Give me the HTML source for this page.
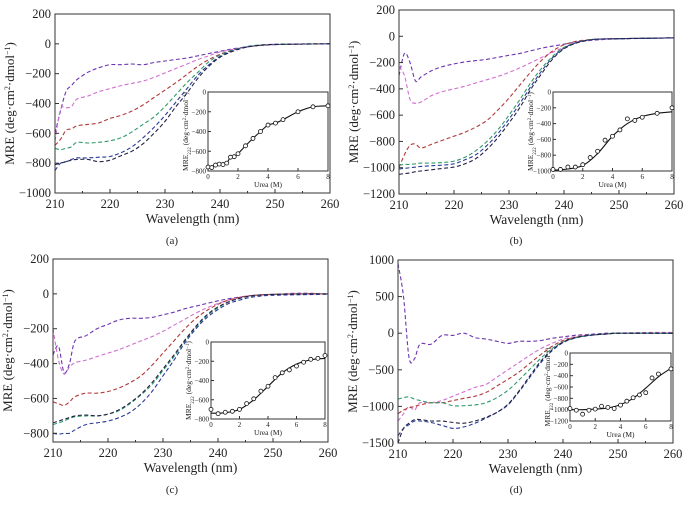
<!DOCTYPE html>
<html><head><meta charset="utf-8"><style>
html,body{margin:0;padding:0;background:#fff;}
svg, svg text{font-family:"Liberation Serif","DejaVu Serif",serif;}
</style></head><body>
<svg id="fig" width="688" height="500" viewBox="0 0 688 500" xmlns="http://www.w3.org/2000/svg" font-family="Liberation Serif, serif"></svg>
<script>
const wavelengths=[210,211,212,213,214,216,218,220,222,224,226,228,230,232,234,236,238,240,242,244,246,248,250,255,260];
const seriesNames=['purple','magenta','red','green','navy','black'];
const seriesColors=['#6a35b0','#d070d0','#b03a3a','#2e9a6a','#2a3a9a','#222244'];
// panel a
const aPurple=[-600,-450,-320,-280,-240,-190,-160,-140,-140,-135,-140,-125,-115,-105,-95,-80,-65,-50,-35,-25,-15,-10,-5,-2,0];
const aMagenta=[-650,-440,-430,-420,-370,-350,-320,-300,-280,-265,-250,-225,-195,-165,-135,-105,-80,-55,-40,-25,-15,-8,-5,-2,0];
const aRed=[-680,-640,-580,-570,-550,-540,-530,-500,-480,-450,-410,-360,-310,-260,-205,-150,-105,-70,-45,-25,-15,-8,-5,-2,0];
const aGreen=[-700,-710,-700,-690,-660,-665,-660,-650,-630,-590,-540,-490,-420,-340,-260,-190,-120,-75,-45,-25,-12,-6,-3,-1,0];
const aNavy=[-850,-800,-790,-775,-765,-765,-760,-755,-730,-690,-630,-560,-480,-390,-300,-210,-140,-85,-50,-28,-14,-7,-4,-1,0];
const aBlack=[-810,-800,-790,-780,-775,-775,-790,-780,-750,-720,-670,-600,-520,-420,-330,-230,-150,-90,-55,-30,-15,-7,-4,-1,0];
// panel b
const bPurple=[-300,-130,-200,-340,-310,-260,-230,-210,-195,-185,-175,-160,-145,-130,-110,-90,-75,-60,-45,-35,-28,-22,-20,-15,-12];
const bMagenta=[-230,-300,-480,-510,-500,-450,-420,-400,-380,-355,-330,-305,-275,-240,-200,-160,-120,-85,-55,-35,-25,-20,-18,-15,-12];
const bRed=[-1000,-900,-830,-820,-850,-820,-790,-760,-730,-690,-640,-560,-470,-370,-270,-180,-110,-65,-40,-28,-22,-20,-18,-15,-12];
const bGreen=[-980,-975,-975,-970,-965,-965,-960,-950,-920,-870,-800,-710,-600,-480,-350,-240,-150,-85,-50,-30,-22,-20,-18,-15,-12];
const bNavy=[-1010,-1005,-1000,-995,-990,-985,-980,-970,-940,-900,-830,-740,-630,-510,-380,-260,-160,-90,-52,-32,-22,-20,-18,-15,-12];
const bBlack=[-1050,-1045,-1040,-1030,-1025,-1015,-1005,-995,-970,-930,-860,-770,-660,-540,-400,-280,-170,-95,-55,-33,-22,-20,-18,-15,-12];
// panel c
const cPurple=[-350,-300,-450,-400,-270,-240,-200,-175,-150,-140,-140,-135,-120,-105,-85,-70,-55,-40,-28,-18,-10,-5,-3,0,0];
const cMagenta=[-200,-380,-460,-420,-395,-380,-360,-340,-320,-295,-270,-245,-215,-180,-145,-110,-80,-55,-35,-20,-10,-5,-3,5,0];
const cRed=[-620,-630,-640,-620,-590,-570,-570,-560,-540,-510,-470,-410,-340,-270,-200,-140,-95,-60,-35,-20,-10,-6,-3,0,0];
const cGreen=[-750,-740,-730,-715,-705,-700,-700,-690,-670,-630,-580,-520,-440,-360,-270,-190,-125,-80,-45,-25,-12,-6,-3,0,0];
const cNavy=[-800,-805,-800,-800,-780,-750,-740,-730,-710,-680,-630,-560,-470,-380,-280,-200,-135,-90,-55,-35,-20,-12,-8,-5,-2];
const cBlack=[-740,-730,-720,-710,-700,-695,-700,-690,-665,-625,-575,-510,-430,-350,-265,-185,-120,-75,-45,-25,-12,-6,-3,0,0];
// panel d
const dPurple=[950,500,-330,-350,-150,-150,-30,-30,0,-60,-80,-110,-140,-110,-110,-100,-70,-50,-30,-20,-10,0,0,0,0];
const dMagenta=[-1200,-1100,-1000,-1050,-950,-950,-920,-860,-800,-740,-700,-600,-500,-400,-300,-210,-140,-80,-50,-30,-20,-10,0,10,10];
const dRed=[-1100,-1050,-1020,-1000,-980,-950,-950,-920,-890,-860,-810,-720,-630,-530,-410,-290,-180,-100,-60,-35,-20,-10,0,0,0];
const dGreen=[-900,-880,-870,-900,-920,-950,-950,-990,-990,-980,-950,-880,-780,-640,-490,-340,-210,-120,-70,-40,-20,-10,0,0,0];
const dNavy=[-1400,-1300,-1250,-1200,-1200,-1220,-1260,-1300,-1280,-1230,-1160,-1080,-980,-800,-600,-400,-240,-130,-70,-40,-20,-10,0,0,0];
const dBlack=[-1500,-1300,-1230,-1180,-1180,-1200,-1200,-1220,-1230,-1200,-1150,-1080,-970,-790,-580,-380,-230,-120,-65,-35,-20,-10,0,0,0];
// insets
const aUrea=[0,0.25,0.5,0.75,1,1.25,1.5,1.75,2,2.5,3,3.5,4,4.5,5,6,7,8];
const aMre=[-760,-765,-740,-730,-735,-720,-660,-655,-625,-545,-470,-400,-335,-315,-280,-200,-150,-140];
const bUrea=[0,0.5,1,1.5,2,2.5,3,3.5,4,4.5,5,5.5,6,7,8];
const bMre=[-980,-980,-950,-950,-920,-830,-750,-610,-560,-480,-340,-360,-320,-270,-200];
const cUrea=[0,0.5,1,1.5,2,2.5,3,3.5,4,4.5,5,5.5,6,6.5,7,7.5,8];
const cMre=[-700,-745,-730,-720,-700,-640,-590,-510,-460,-370,-320,-290,-250,-210,-180,-170,-140];
const dUrea=[0,0.5,1,1.5,2,2.5,3,3.5,4,4.5,5,5.5,6,6.5,7,8];
const dMre=[-980,-1010,-1080,-1010,-990,-940,-960,-980,-920,-850,-790,-740,-700,-440,-370,-280];
const fitUrea=[0,1,2,3,4,5,6,7,8];
const bFit=[-990,-975,-930,-780,-560,-400,-310,-270,-250];
const cFit=[-740,-735,-700,-600,-460,-320,-230,-185,-170];
const dFit=[-1000,-1000,-990,-970,-910,-800,-620,-420,-270];
const xTicks=[210,220,230,240,250,260];
const ureaTicks=[0,2,4,6,8];

const NS='http://www.w3.org/2000/svg';
const FONT='Liberation Serif, DejaVu Serif, serif';
const svg=document.getElementById('fig');
function mk(tag,attrs,parent){const e=document.createElementNS(NS,tag);for(const k in attrs)e.setAttribute(k,attrs[k]);if(tag==='text')e.setAttribute('font-family',FONT);(parent||svg).appendChild(e);return e;}

const panels=[
 {id:'a',box:[55,330,14,193],ymax:200,ymin:-1000,yt:[200,0,-200,-400,-600,-800,-1000],data:[aPurple,aMagenta,aRed,aGreen,aNavy,aBlack],
  inset:{box:[208,328,92,171],ymin:-800,yt:[0,-200,-400,-600,-800],u:aUrea,v:aMre,fu:aUrea,fv:aMre},label:[172,244]},
 {id:'b',box:[399,674,10,194],ymax:200,ymin:-1200,yt:[200,0,-200,-400,-600,-800,-1000,-1200],data:[bPurple,bMagenta,bRed,bGreen,bNavy,bBlack],
  inset:{box:[553,672,92,171],ymin:-1000,yt:[0,-200,-400,-600,-800,-1000],u:bUrea,v:bMre,fu:fitUrea,fv:bFit},label:[516,244]},
 {id:'c',box:[53,328,259,442],ymax:200,ymin:-850,yt:[200,0,-200,-400,-600,-800],data:[cPurple,cMagenta,cRed,cGreen,cNavy,cBlack],
  inset:{box:[211,325,342,419],ymin:-800,yt:[0,-200,-400,-600,-800],u:cUrea,v:cMre,fu:fitUrea,fv:cFit},label:[172,493]},
 {id:'d',box:[398,673,260,443],ymax:1000,ymin:-1500,yt:[1000,500,0,-500,-1000,-1500],data:[dPurple,dMagenta,dRed,dGreen,dNavy,dBlack],
  inset:{box:[570,671,353,421],ymin:-1200,yt:[0,-200,-400,-600,-800,-1000,-1200],u:dUrea,v:dMre,fu:fitUrea,fv:dFit},label:[516,493]}
];

function smoothPath(pts){
  let d='M'+pts[0][0].toFixed(1)+','+pts[0][1].toFixed(1);
  for(let i=0;i<pts.length-1;i++){
    const p0=pts[i-1]||pts[i],p1=pts[i],p2=pts[i+1],p3=pts[i+2]||p2;
    const c1=[p1[0]+(p2[0]-p0[0])/6,p1[1]+(p2[1]-p0[1])/6];
    const c2=[p2[0]-(p3[0]-p1[0])/6,p2[1]-(p3[1]-p1[1])/6];
    d+=' C'+c1[0].toFixed(1)+','+c1[1].toFixed(1)+' '+c2[0].toFixed(1)+','+c2[1].toFixed(1)+' '+p2[0].toFixed(1)+','+p2[1].toFixed(1);
  }
  return d;
}

panels.forEach(p=>{
  const [x0,x1,y0,y1]=p.box;
  const g=mk('g',{});
  
  
  const sx=w=>x0+(w-210)/(260-210)*(x1-x0);
  const sy=v=>y0+(p.ymax-v)/(p.ymax-p.ymin)*(y1-y0);
  const clip=mk('clipPath',{id:'clip'+p.id},g);
  mk('rect',{x:x0,y:y0,width:x1-x0,height:y1-y0},clip);
  const lines=mk('g',{'clip-path':'url(#clip'+p.id+')'},g);
  p.data.forEach((arr,i)=>{
    const pts=wavelengths.map((w,j)=>[sx(w),sy(arr[j])]);
    const path=mk('path',{d:smoothPath(pts),fill:'none',stroke:seriesColors[i],'stroke-width':1.1,'stroke-dasharray':'4,2.5'},lines);
    
    
  });
  const frame=mk('rect',{x:x0,y:y0,width:x1-x0,height:y1-y0,fill:'none',stroke:'#333','stroke-width':1},g);
  
  
  for(let w=210;w<=260;w+=5){
    const big=w%10===0;
    mk('line',{x1:sx(w),x2:sx(w),y1:y1,y2:y1-(big?4:2),stroke:'#333'},g);
  }
  xTicks.forEach(w=>{
    const t=mk('text',{x:sx(w),y:y1+15,'text-anchor':'middle','font-size':12.5,fill:'#222'},g);
    t.textContent=w;
    
    
  });
  p.yt.forEach(v=>{
    mk('line',{x1:x0,x2:x0+4,y1:sy(v),y2:sy(v),stroke:'#333'},g);
    const t=mk('text',{x:x0-4,y:sy(v)+4,'text-anchor':'end','font-size':12.5,fill:'#222'},g);
    t.textContent=v<0?'\u2212'+(-v):v;
    
    
  });
  const xt=mk('text',{x:(x0+x1)/2,y:y1+30,'text-anchor':'middle','font-size':13.5,fill:'#222'},g);
  xt.textContent='Wavelength (nm)';
  
  
  const yc=(y0+y1)/2, yx=x0-41;
  const yt=mk('text',{x:yx,y:yc,'text-anchor':'middle','font-size':13,fill:'#222',transform:'rotate(-90 '+yx+' '+yc+')'},g);
  yt.innerHTML='MRE (deg\u00b7cm<tspan baseline-shift="super" font-size="8">2</tspan>\u00b7dmol<tspan baseline-shift="super" font-size="8">\u22121</tspan>)';
  
  
  const lb=mk('text',{x:p.label[0],y:p.label[1],'text-anchor':'middle','font-size':11,fill:'#222'},g);
  lb.textContent='('+p.id+')';
  
  

  // inset
  const I=p.inset;const [ix0,ix1,iy0,iy1]=I.box;
  const ig=mk('g',{},g);
  
  
  const ux=u=>ix0+u/8*(ix1-ix0);
  const uy=v=>iy0+(0-v)/(0-I.ymin)*(iy1-iy0);
  mk('rect',{x:ix0,y:iy0,width:ix1-ix0,height:iy1-iy0,fill:'#fff',stroke:'#333','stroke-width':1},ig);
  ureaTicks.forEach(u=>{
    mk('line',{x1:ux(u),x2:ux(u),y1:iy1,y2:iy1-3,stroke:'#333'},ig);
    const t=mk('text',{x:ux(u),y:iy1+8,'text-anchor':'middle','font-size':7,fill:'#222'},ig);
    t.textContent=u;
    
    
  });
  I.yt.forEach(v=>{
    mk('line',{x1:ix0,x2:ix0+3,y1:uy(v),y2:uy(v),stroke:'#333'},ig);
    const t=mk('text',{x:ix0-2,y:uy(v)+2.5,'text-anchor':'end','font-size':7,fill:'#222'},ig);
    t.textContent=v<0?'\u2212'+(-v):v;
    
    
  });
  const ixt=mk('text',{x:(ix0+ix1)/2,y:iy1+16,'text-anchor':'middle','font-size':7.5,fill:'#222'},ig);
  ixt.textContent='Urea (M)';
  
  
  const icx=ix0-20, icy=(iy0+iy1)/2;
  const iyt=mk('text',{x:icx,y:icy,'text-anchor':'middle','font-size':7.5,fill:'#222',transform:'rotate(-90 '+icx+' '+icy+')'},ig);
  iyt.innerHTML='MRE<tspan baseline-shift="sub" font-size="5">222</tspan> (deg\u00b7cm<tspan baseline-shift="super" font-size="5">2</tspan>\u00b7dmol<tspan baseline-shift="super" font-size="5">\u22121</tspan>)';
  
  
  const fp=mk('path',{d:smoothPath(I.fu.map((u,j)=>[ux(u),uy(I.fv[j])])),fill:'none',stroke:'#111','stroke-width':1.1},ig);
  
  
  I.u.forEach((u,j)=>{
    const c=mk('circle',{cx:ux(u),cy:uy(I.v[j]),r:2,fill:'#fff',stroke:'#111','stroke-width':0.8},ig);
    
    
  });
});
</script>
</body></html>
